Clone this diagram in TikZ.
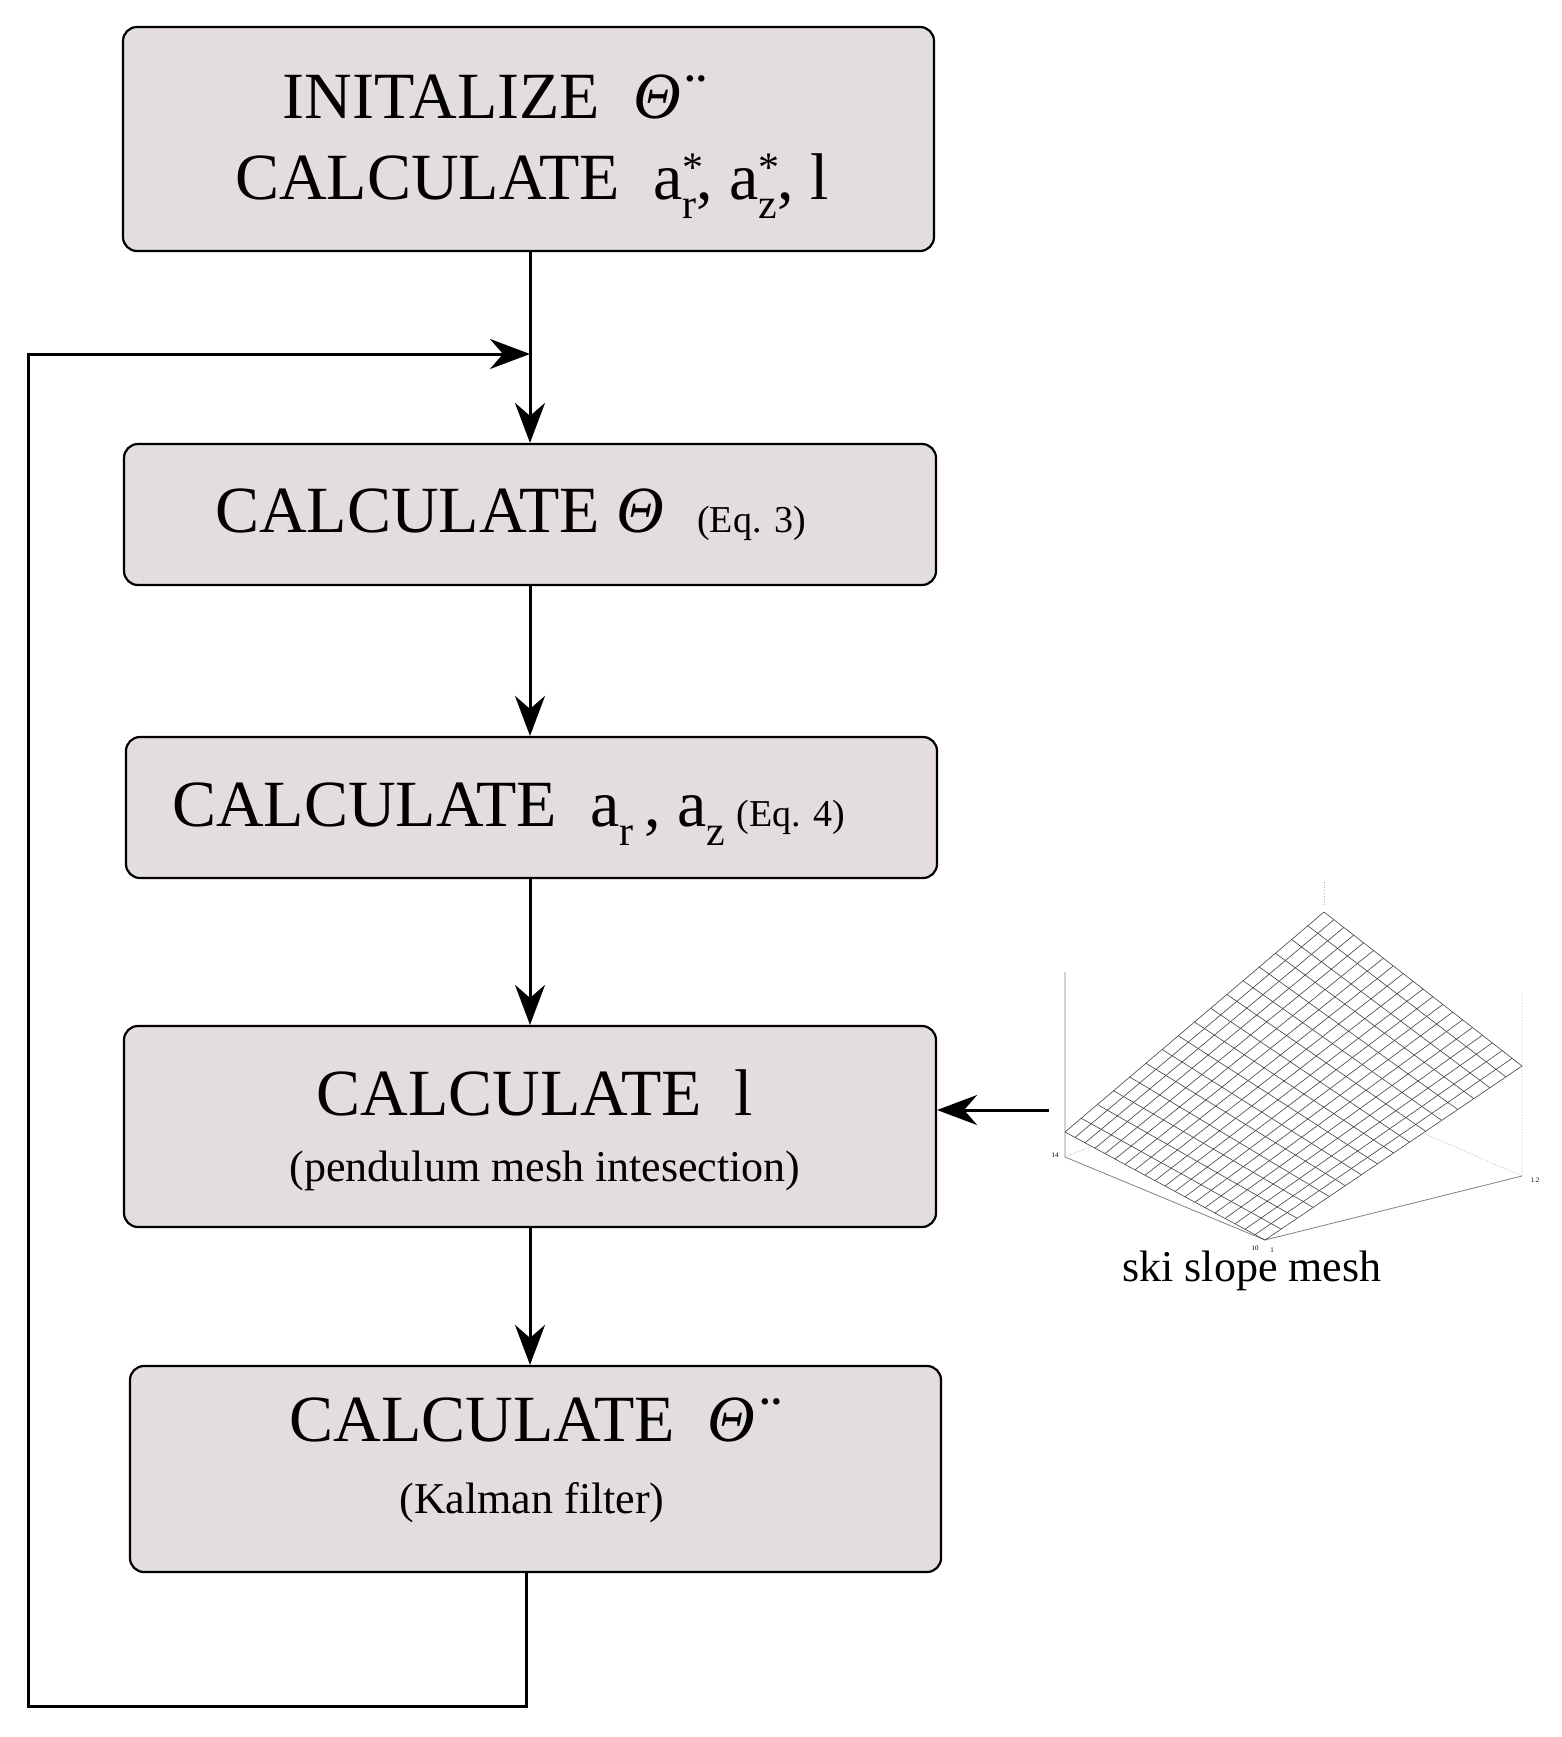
\documentclass[tikz,border=0pt]{standalone}
\usepackage{amsmath}
\usepackage{fontspec}
\setmainfont{Liberation Serif}
\usetikzlibrary{arrows.meta,calc}
\begin{document}
\begin{tikzpicture}[x=1pt,y=-1pt,
  box/.style={draw=black,line width=2.2pt,fill=boxc,rounded corners=14pt,inner sep=0pt},
  big/.style={font=\fontsize{66}{70}\selectfont,inner sep=0pt},
  mid/.style={font=\fontsize{44}{48}\selectfont,inner sep=0pt},
  arr/.style={line width=3pt,-{Stealth[length=40pt,width=30pt]}}]
\definecolor{boxc}{HTML}{E3DDDD}
\useasboundingbox (0,0) rectangle (1562,1737);
\newcommand{\thdd}{\textit{\"Θ}}
\newcommand{\subx}[1]{\raisebox{-0.28em}{\fontsize{42}{44}\selectfont #1}}
\newcommand{\astsub}[1]{\rlap{\raisebox{0.28em}{\fontsize{42}{44}\selectfont *}}\raisebox{-0.28em}{\fontsize{42}{44}\selectfont #1}}
\node[box,minimum width=811pt,minimum height=224pt] (b1) at (528.5,139) {};
\node[box,minimum width=812pt,minimum height=141pt] (b2) at (530,514.5) {};
\node[box,minimum width=811pt,minimum height=141pt] (b3) at (531.5,807.5) {};
\node[box,minimum width=812pt,minimum height=201pt] (b4) at (530,1126.5) {};
\node[box,minimum width=811pt,minimum height=206pt] (b5) at (535.5,1469) {};
\node[big] (t1a) at (494,97) {INITALIZE \ \thdd};
\node[big] (t1b) at (532,186) {CALCULATE \ a\astsub{r}, a\astsub{z}, l};
\node[big,anchor=west] (t2) at (215,515) {CALCULATE \textit{Θ} \ {\fontsize{38}{40}\selectfont (Eq. 3)}};
\node[big,anchor=west] (t3) at (172,814) {CALCULATE \ a\subx{r}\,, a\subx{z}\,{\fontsize{38}{40}\selectfont(Eq. 4)}};
\node[big] (t4a) at (535,1093) {CALCULATE \ l};
\node[mid] (t4b) at (545,1171) {(pendulum mesh intesection)};
\node[big] (t5a) at (535,1420) {CALCULATE \ \thdd};
\node[mid] (t5b) at (532,1503) {(Kalman filter)};
\coordinate (j) at (530,354);
\coordinate (c1) at (526,1706);
\coordinate (c2) at (28,1706);
\coordinate (c3) at (28,354);
\draw[line width=3pt] (b1.south -| j) -- (j);
\draw[arr] (j) -- (b2.north -| j);
\draw[arr] (b2.south -| j) -- (b3.north -| j);
\draw[arr] (b3.south -| j) -- (b4.north -| j);
\draw[arr] (b4.south -| j) -- (b5.north -| j);
\draw[line width=3pt] (b5.south -| c1) -- (c1) -- (c2) -- (c3) -- ([xshift=-30pt]j);
\draw[arr] (c3) -- (j);
% mesh
\coordinate (mL) at (1065,1132);
\coordinate (mT) at (1324,912);
\coordinate (mR) at (1522,1066);
\coordinate (mB) at (1265,1240);
\coordinate (mesh) at (1049,1110);
\draw[arr] (mesh) -- (b4.east |- mesh);
\draw[gray,line width=0.8pt] (1065,972) -- (1065,1157) -- (mB) -- (1522,1176);
\draw[gray!60,dotted,line width=0.8pt] (1522,992) -- (1522,1176) -- (1425,1134);
\draw[gray!60,dotted,line width=0.8pt] (1065,1157) -- (1090,1147);
\draw[gray!60,dotted,line width=0.8pt] (1324,905) -- (1324,880);
\foreach \i in {0,...,20} {
  \draw[black!75,line width=0.6pt] ($(mL)!\i/20!(mB)$) -- ($(mT)!\i/20!(mR)$);
}
\foreach \i in {0,...,16} {
  \draw[black!75,line width=0.6pt] ($(mL)!\i/16!(mT)$) -- ($(mB)!\i/16!(mR)$);
}
\node[font=\fontsize{7}{8}\selectfont] (l14) at (1055,1155) {14};
\node[font=\fontsize{7}{8}\selectfont] (l10) at (1255,1248) {10};
\node[font=\fontsize{7}{8}\selectfont] (l1) at (1272,1250) {1};
\node[font=\fontsize{7}{8}\selectfont] (l12) at (1535,1180) {1.2};
\node[mid] (cap) at (1252,1271) {ski slope mesh};
\end{tikzpicture}
\end{document}
